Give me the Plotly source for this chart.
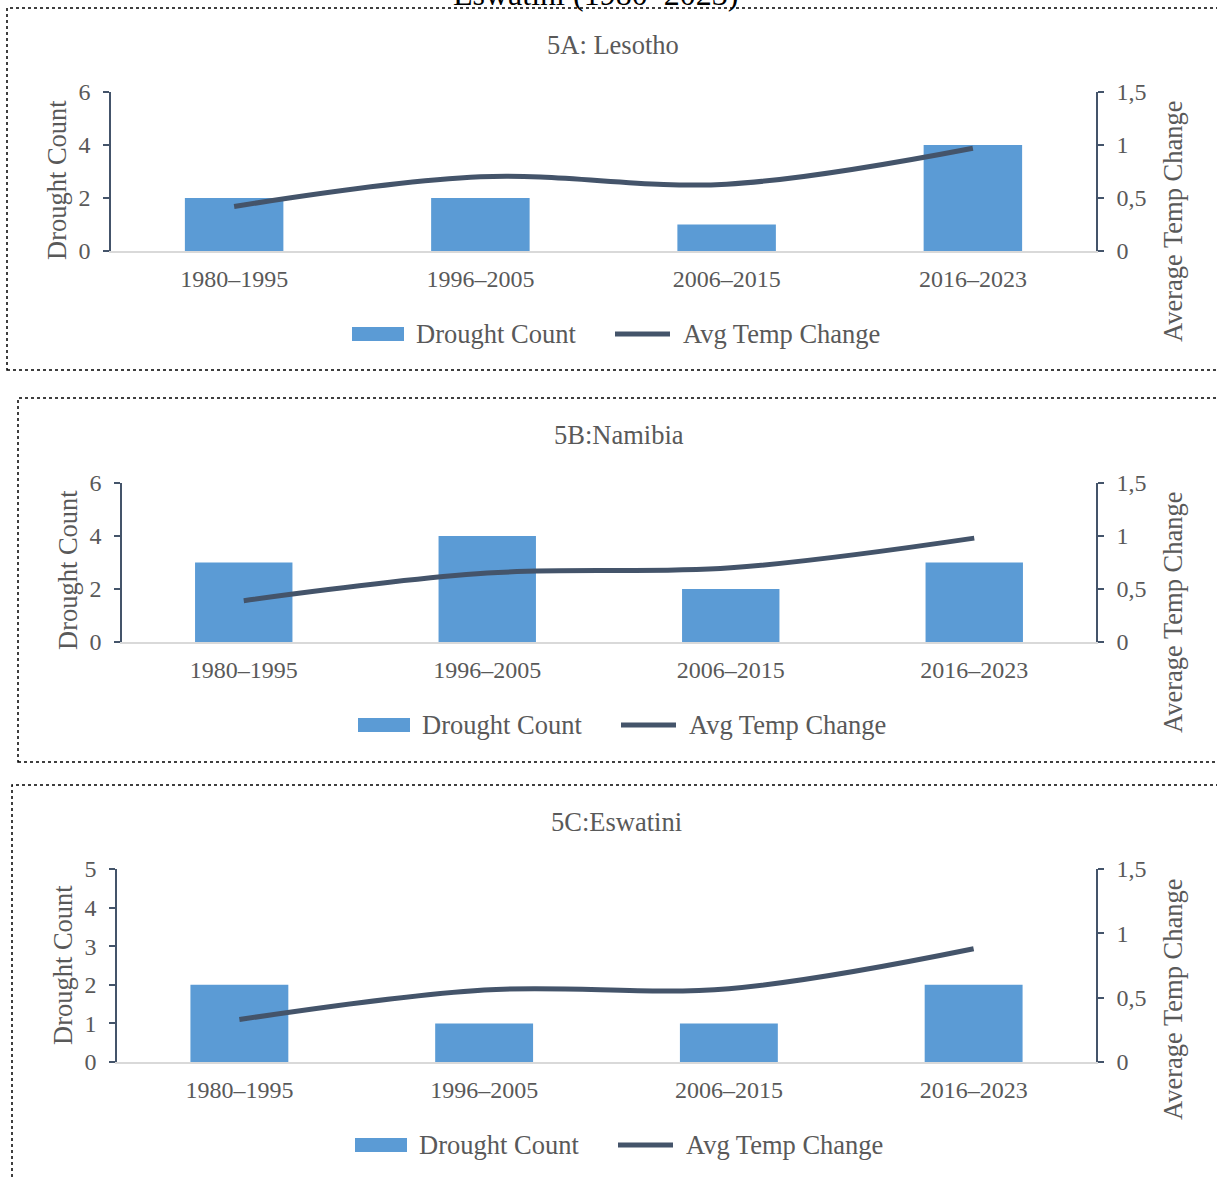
import plotly.graph_objects as go

# ---- data ----
periods = ["1980–1995", "1996–2005", "2006–2015", "2016–2023"]

lesotho_droughts = [2, 2, 1, 4]
lesotho_temp = [0.42, 0.70, 0.63, 0.97]

namibia_droughts = [3, 4, 2, 3]
namibia_temp = [0.39, 0.65, 0.70, 0.98]

eswatini_droughts = [2, 1, 1, 2]
eswatini_temp = [0.33, 0.56, 0.57, 0.88]

panel_titles = ["5A: Lesotho", "5B:Namibia", "5C:Eswatini"]
series_names = ["Drought Count", "Avg Temp Change"]
left_ranges = [[0, 6], [0, 6], [0, 5]]
left_dticks = [2, 2, 1]

W, H = 1217, 1178
BAR = "#5B9BD5"
LINE = "#44546A"
TXT = "#595959"
FONT = "Liberation Serif, Times New Roman, serif"


def px_x(x):
    return x / W


def px_y(y):
    return 1 - y / H


# plot areas in pixel coordinates: (left, right, top, bottom)
areas = [(111, 1096, 92, 251), (122, 1096, 483, 642), (117, 1096, 869, 1062)]
legend_pos = [(352, 334), (358, 725), (355, 1145)]   # left edge of first swatch, centre y
title_pos = [(613, 45), (619, 435), (616, 822)]
ltitle_pos = [(57, 180), (68, 570), (63, 965)]
rtitle_pos = [(1173, 222), (1173, 613), (1173, 1000)]
boxes = [(7, 8, 1230, 370), (18, 398, 1230, 762), (12, 785, 1230, 1200)]

droughts = [lesotho_droughts, namibia_droughts, eswatini_droughts]
temps = [lesotho_temp, namibia_temp, eswatini_temp]

fig = go.Figure()
layout = dict(
    width=W, height=H,
    margin=dict(l=0, r=0, t=0, b=0, autoexpand=False),
    paper_bgcolor="white", plot_bgcolor="white",
    font=dict(family=FONT, color=TXT, size=24),
    separators=", ",
    bargap=0.6,
    showlegend=False,
    annotations=[], shapes=[],
)


def label(text, x, y, size=26.5, color=TXT, angle=0, xanchor="center"):
    return dict(
        text=text, x=px_x(x), y=px_y(y), xref="paper", yref="paper",
        showarrow=False, xanchor=xanchor, yanchor="middle", textangle=angle,
        font=dict(size=size, color=color, family=FONT),
    )


for i in range(3):
    xa = "x" if i == 0 else f"x{i + 1}"
    yl = f"y{2 * i + 1}" if i else "y"
    yr = f"y{2 * i + 2}"
    l, r, t, b = areas[i]

    fig.add_trace(go.Bar(
        x=periods, y=droughts[i], name=series_names[0],
        marker=dict(color=BAR, line=dict(width=0)),
        xaxis=xa, yaxis=yl,
    ))
    fig.add_trace(go.Scatter(
        x=periods, y=temps[i], name=series_names[1], mode="lines",
        line=dict(color=LINE, width=5, shape="spline", smoothing=1.0),
        xaxis=xa, yaxis=yr,
    ))

    xkey = "xaxis" if i == 0 else f"xaxis{i + 1}"
    ylkey = "yaxis" if i == 0 else f"yaxis{2 * i + 1}"
    yrkey = f"yaxis{2 * i + 2}"

    layout[xkey] = dict(
        domain=[px_x(l), px_x(r)], anchor=yl, type="category",
        showline=True, linecolor="#D9D9D9", linewidth=2,
        ticks="", showgrid=False, ticklabelstandoff=5,
        tickfont=dict(size=24, color=TXT),
    )
    layout[ylkey] = dict(
        domain=[px_y(b), px_y(t)], anchor=xa,
        range=left_ranges[i], dtick=left_dticks[i],
        showline=True, linecolor=LINE, linewidth=1.5,
        ticks="outside", ticklen=6, tickcolor=LINE, tickwidth=1.5,
        showgrid=False, zeroline=False, ticklabelstandoff=8,
        tickfont=dict(size=24, color=TXT),
    )
    layout[yrkey] = dict(
        domain=[px_y(b), px_y(t)], anchor=xa, overlaying=yl, side="right",
        range=[0, 1.5], dtick=0.5, tickformat=".1~f",
        showline=True, linecolor=LINE, linewidth=1.5,
        ticks="outside", ticklen=6, tickcolor=LINE, tickwidth=1.5,
        showgrid=False, zeroline=False, ticklabelstandoff=8,
        tickfont=dict(size=24, color=TXT),
    )

    # legend: bar swatch + label, line swatch + label
    lx, ly = legend_pos[i]
    layout["shapes"].append(dict(
        type="rect", xref="paper", yref="paper",
        x0=px_x(lx), x1=px_x(lx + 52), y0=px_y(ly + 7), y1=px_y(ly - 7),
        line=dict(width=0), fillcolor=BAR,
    ))
    layout["annotations"].append(label(series_names[0], lx + 62, ly, xanchor="left"))
    layout["shapes"].append(dict(
        type="line", xref="paper", yref="paper",
        x0=px_x(lx + 263), x1=px_x(lx + 318), y0=px_y(ly), y1=px_y(ly),
        line=dict(width=5, color=LINE),
    ))
    layout["annotations"].append(label(series_names[1], lx + 329, ly, xanchor="left"))

    tx, ty = title_pos[i]
    layout["annotations"].append(label(panel_titles[i], tx, ty))
    ax_, ay_ = ltitle_pos[i]
    layout["annotations"].append(label("Drought Count", ax_, ay_, angle=-90))
    rx, ry = rtitle_pos[i]
    layout["annotations"].append(label("Average Temp Change", rx, ry, angle=-90))

    bx0, by0, bx1, by1 = boxes[i]
    layout["shapes"].append(dict(
        type="rect", xref="paper", yref="paper",
        x0=px_x(bx0), x1=px_x(bx1), y0=px_y(by1), y1=px_y(by0),
        line=dict(color="black", width=1.5, dash="dot"), fillcolor="rgba(0,0,0,0)",
    ))

# figure caption running off the top edge
layout["annotations"].append(label("Eswatini (1980–2023)", 595, -6, size=32, color="black"))

fig.update_layout(**layout)
fig.write_html("out.html")
